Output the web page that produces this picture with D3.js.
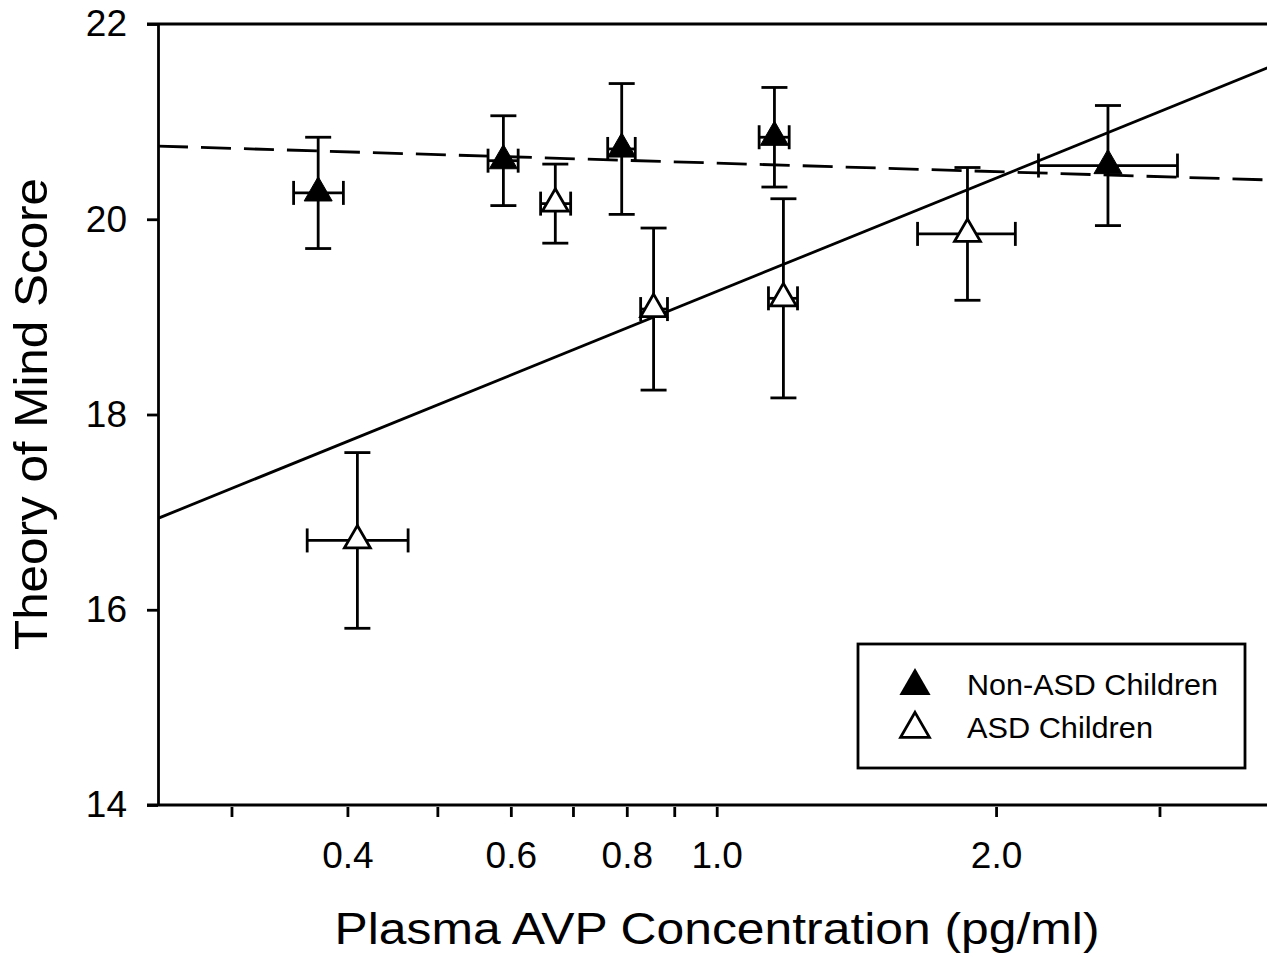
<!DOCTYPE html>
<html>
<head>
<meta charset="utf-8">
<script src="https://cdn.jsdelivr.net/npm/d3@7"></script>
<style>
  html, body { margin: 0; padding: 0; background: #fff; }
  svg { display: block; }
  text { font-family: "Liberation Sans", Arial, sans-serif; fill: #000; }
</style>
</head>
<body>
<svg id="chart" width="1267" height="957"></svg>
<script>
// ---------- data ----------
const xTickValues = [0.3, 0.4, 0.5, 0.6, 0.7, 0.8, 0.9, 1.0, 2.0, 3.0];
const xTickLabels = ["", "0.4", "", "0.6", "", "0.8", "", "1.0", "2.0", ""];
const yTickValues = [14, 16, 18, 20, 22];
const yTickLabels = ["14", "16", "18", "20", "22"];

// Non-ASD children (filled triangles)
const nonAsdX    = [0.372, 0.589, 0.790, 1.154, 2.640];
const nonAsdXLow = [0.350, 0.567, 0.763, 1.111, 2.222];
const nonAsdXHigh= [0.396, 0.611, 0.817, 1.197, 3.137];
const nonAsdY    = [20.27, 20.60, 20.72, 20.84, 20.55];
const nonAsdYErr = [0.57, 0.46, 0.67, 0.51, 0.615];

// ASD children (open triangles)
const asdX    = [0.410, 0.670, 0.855, 1.180, 1.863];
const asdXLow = [0.362, 0.646, 0.828, 1.137, 1.646];
const asdXHigh= [0.465, 0.696, 0.885, 1.222, 2.098];
const asdY    = [16.71, 20.16, 19.08, 19.19, 19.85];
const asdYErr = [0.90, 0.405, 0.83, 1.02, 0.68];

// regression fits: score = intercept + slope * log10(AVP)
const asdFit    = { intercept: 19.26, slope: 3.86 };
const nonAsdFit = { intercept: 20.575, slope: -0.29 };

const legendLabels = ["Non-ASD Children", "ASD Children"];
const xTitle = "Plasma AVP Concentration (pg/ml)";
const yTitle = "Theory of Mind Score";

// ---------- layout ----------
const svg = d3.select("#chart");
const W = 1267, H = 957;
const pLeft = 158, pTop = 24, pBottom = 805;

const x = d3.scaleLog().domain([0.25, 4]).range([pLeft, pLeft + 928 * Math.log10(16)]);
const y = d3.scaleLinear().domain([14, 22]).range([pBottom, pTop]);

const SW = 2.8;

svg.append("rect").attr("width", W).attr("height", H).attr("fill", "#fff");

svg.append("defs").append("clipPath").attr("id", "plotClip")
  .append("rect").attr("x", pLeft).attr("y", pTop).attr("width", W - pLeft).attr("height", pBottom - pTop);

// frame lines (top and bottom) extending to tick length at left
svg.append("line").attr("x1", pLeft - 11).attr("x2", W).attr("y1", y(22)).attr("y2", y(22))
  .attr("stroke", "#000").attr("stroke-width", SW);
svg.append("line").attr("x1", pLeft - 11).attr("x2", W).attr("y1", y(14)).attr("y2", y(14))
  .attr("stroke", "#000").attr("stroke-width", SW);

// y axis
const yAxis = d3.axisLeft(y).tickValues(yTickValues)
  .tickFormat((d, i) => yTickLabels[i]).tickSize(11).tickSizeOuter(0).tickPadding(20);
const gy = svg.append("g").attr("transform", `translate(${pLeft},0)`).call(yAxis);
gy.select(".domain").attr("stroke-width", SW);
gy.selectAll(".tick line").attr("stroke-width", SW);
gy.selectAll(".tick text").style("font-size", "37px").attr("font-family", null);

// x axis (ticks detached slightly below the axis line)
const xAxis = d3.axisBottom(x).tickValues(xTickValues)
  .tickFormat((d, i) => xTickLabels[i]).tickSize(10).tickSizeOuter(0).tickPadding(25);
const gx = svg.append("g").attr("transform", `translate(0,${pBottom + 2})`).call(xAxis);
gx.select(".domain").remove();
gx.selectAll(".tick line").attr("stroke-width", SW);
gx.selectAll(".tick text").style("font-size", "37px").attr("font-family", null);

// axis titles
svg.append("text").attr("x", 717).attr("y", 944).attr("text-anchor", "middle")
  .style("font-size", "44px").attr("textLength", 765).attr("lengthAdjust", "spacingAndGlyphs")
  .text(xTitle);
svg.append("text").attr("transform", "translate(47,414) rotate(-90)").attr("text-anchor", "middle")
  .style("font-size", "47px").attr("textLength", 472).attr("lengthAdjust", "spacingAndGlyphs")
  .text(yTitle);

// regression lines
const plot = svg.append("g").attr("clip-path", "url(#plotClip)");
const fitLine = d3.line().x(d => x(d[0])).y(d => y(d[1]));
const dom = x.domain();
function fitPts(f) { return dom.map(v => [v, f.intercept + f.slope * Math.log10(v)]); }

plot.append("path").attr("d", fitLine(fitPts(asdFit)))
  .attr("fill", "none").attr("stroke", "#000").attr("stroke-width", SW);
plot.append("path").attr("d", fitLine(fitPts(nonAsdFit)))
  .attr("fill", "none").attr("stroke", "#000").attr("stroke-width", SW)
  .attr("stroke-dasharray", "30,13");

// error bars + markers
function series(X, XL, XH, Y, YE) {
  return X.map((v, i) => ({ x: v, xl: XL[i], xh: XH[i], y: Y[i], ye: YE[i] }));
}
const nonAsd = series(nonAsdX, nonAsdXLow, nonAsdXHigh, nonAsdY, nonAsdYErr);
const asd = series(asdX, asdXLow, asdXHigh, asdY, asdYErr);

const capV = 13, capH = 12;
function drawErr(data) {
  const g = plot.append("g").attr("stroke", "#000").attr("stroke-width", SW).attr("fill", "none");
  data.forEach(d => {
    const cx = x(d.x), cy = y(d.y), y1 = y(d.y + d.ye), y2 = y(d.y - d.ye);
    const x1 = x(d.xl), x2 = x(d.xh);
    g.append("line").attr("x1", cx).attr("x2", cx).attr("y1", y1).attr("y2", y2);
    g.append("line").attr("x1", cx - capV).attr("x2", cx + capV).attr("y1", y1).attr("y2", y1);
    g.append("line").attr("x1", cx - capV).attr("x2", cx + capV).attr("y1", y2).attr("y2", y2);
    g.append("line").attr("x1", x1).attr("x2", x2).attr("y1", cy).attr("y2", cy);
    g.append("line").attr("x1", x1).attr("x2", x1).attr("y1", cy - capH).attr("y2", cy + capH);
    g.append("line").attr("x1", x2).attr("x2", x2).attr("y1", cy - capH).attr("y2", cy + capH);
  });
}
drawErr(asd);
drawErr(nonAsd);

const triFilled = d3.symbol().type(d3.symbolTriangle).size(340);
const triOpen = d3.symbol().type(d3.symbolTriangle).size(290);

plot.append("g").selectAll("path").data(asd).join("path")
  .attr("d", triOpen).attr("transform", d => `translate(${x(d.x)},${y(d.y)})`)
  .attr("fill", "#fff").attr("stroke", "#000").attr("stroke-width", SW);
plot.append("g").selectAll("path").data(nonAsd).join("path")
  .attr("d", triFilled).attr("transform", d => `translate(${x(d.x)},${y(d.y)})`)
  .attr("fill", "#000").attr("stroke", "#000").attr("stroke-width", 1);

// legend
const lg = svg.append("g");
lg.append("rect").attr("x", 858).attr("y", 644).attr("width", 387).attr("height", 124)
  .attr("fill", "#fff").attr("stroke", "#000").attr("stroke-width", SW);
lg.append("path").attr("d", d3.symbol().type(d3.symbolTriangle).size(420)())
  .attr("transform", "translate(915,686)").attr("fill", "#000");
lg.append("path").attr("d", d3.symbol().type(d3.symbolTriangle).size(360)())
  .attr("transform", "translate(915,729)").attr("fill", "#fff").attr("stroke", "#000").attr("stroke-width", SW);
lg.append("text").attr("x", 967).attr("y", 695).style("font-size", "29px")
  .attr("textLength", 251).attr("lengthAdjust", "spacingAndGlyphs").text(legendLabels[0]);
lg.append("text").attr("x", 967).attr("y", 738).style("font-size", "29px")
  .attr("textLength", 186).attr("lengthAdjust", "spacingAndGlyphs").text(legendLabels[1]);
</script>
</body>
</html>
